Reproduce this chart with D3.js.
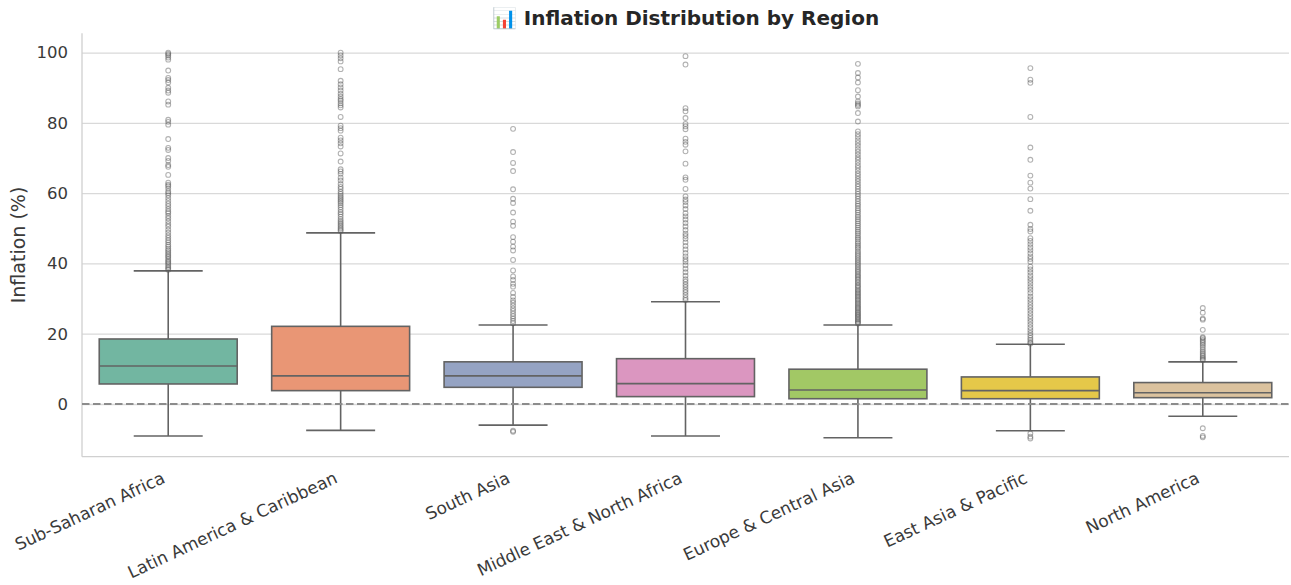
<!DOCTYPE html>
<html>
<head>
<meta charset="utf-8">
<script src="https://cdn.jsdelivr.net/npm/d3@7"></script>
<style>
  body { margin: 0; background: #fff; }
  svg { display: block; font-family: "DejaVu Sans", sans-serif; }
</style>
</head>
<body>
<svg id="chart" width="1291" height="585"></svg>
<script>
// ---------------- DATA ----------------
const regions = ["Sub-Saharan Africa", "Latin America & Caribbean", "South Asia",
  "Middle East & North Africa", "Europe & Central Asia", "East Asia & Pacific", "North America"];
const colors = ["#72b6a1", "#e99675", "#95a3c3", "#db96c0", "#a2c865", "#e5c849", "#dbc29e"];
const q1 = [5.7, 3.8, 4.75, 2.1, 1.5, 1.5, 1.8];
const median = [10.8, 8.0, 8.0, 5.8, 4.0, 3.8, 3.2];
const q3 = [18.5, 22.1, 12.0, 12.9, 9.9, 7.7, 6.1];
const whiskerLow = [-9.1, -7.5, -6.0, -9.1, -9.6, -7.6, -3.5];
const whiskerHigh = [37.9, 48.7, 22.5, 29.1, 22.5, 17.0, 12.0];
const yTicks = [0, 20, 40, 60, 80, 100];

const outliersSSA = [100, 99.6, 99.2, 98.6, 98.0, 94.9, 92.8, 92.2, 91.5, 90.0, 89.2, 88.6, 86.1, 85.2,
  80.9, 80.3, 79.5, 75.4, 72.9, 72.3, 70.0, 69.2, 68.0, 67.5, 65.2, 63.0, 62.4, 62.0, 61.3, 60.5, 60.0,
  59.4, 58.6, 57.8, 57.0, 56.3, 55.5, 54.8, 54.3, 53.5, 52.8, 52.0, 51.2, 50.5, 49.6, 48.8, 48.0, 47.3,
  46.6, 46.0, 45.3, 44.8, 44.2, 43.7, 43.2, 42.7, 42.2, 41.8, 41.3, 40.8, 40.4, 40.0, 39.5, 39.0, 38.6, 38.2];
const outliersLAC = [100, 99.2, 98.4, 97.5, 95.3, 92.0, 91.0, 90.1, 89.2, 88.3, 87.5, 86.8, 86.3, 85.6,
  85.0, 84.4, 81.7, 79.2, 78.5, 77.8, 75.8, 75.0, 74.2, 73.3, 71.3, 69.0, 66.8, 66.2, 65.5, 64.4, 63.6,
  62.6, 61.8, 61.2, 60.4, 59.8, 59.2, 58.7, 58.2, 57.7, 57.2, 56.6, 56.0, 55.3, 54.6, 54.0, 53.3, 52.6,
  52.0, 51.5, 51.0, 50.5, 50.0, 49.6, 49.2];
const outliersSA = [78.3, 71.7, 68.6, 66.3, 61.1, 58.4, 57.2, 54.5, 51.9, 50.7, 47.5, 46.2, 44.8, 43.7,
  41.0, 38.0, 36.3, 35.3, 34.2, 33.4, 31.6, 30.5, 29.5, 28.8, 28.0, 27.2, 26.5, 25.7, 25.0, 24.3, 23.6,
  23.0, -7.6, -7.9];
const outliersMENA = [99.0, 96.6, 84.2, 83.3, 81.4, 79.7, 79.0, 78.2, 75.5, 74.6, 73.8, 71.9, 68.4, 64.5,
  63.8, 61.2, 59.1, 58.2, 57.5, 56.5, 55.5, 54.3, 53.4, 52.5, 51.5, 50.5, 49.5, 48.5, 47.8, 47.0, 46.0,
  45.0, 44.0, 43.0, 42.0, 41.2, 40.5, 39.5, 38.5, 37.5, 36.5, 35.5, 34.8, 34.0, 33.3, 32.5, 31.8, 31.0,
  30.2, 29.6];
const outliersECA = [96.8, 94.2, 92.9, 91.5, 89.3, 87.5, 86.1, 85.5, 85.1, 84.7, 82.8, 80.4, 77.6, 76.8,
  76.0, 75.1, 74.3, 73.5, 72.6, 71.8, 71.0, 70.2, 69.5, 68.7, 67.9, 67.2, 66.4, 65.6, 64.9, 64.1, 63.4,
  62.6, 61.9, 61.2, 60.5, 59.8, 59.1, 58.4, 57.7, 57.0, 56.4, 55.7, 55.1, 54.5, 53.8, 53.2, 52.6, 52.0,
  51.4, 50.8, 50.2, 49.6, 49.0, 48.5, 47.9, 47.3, 46.8, 46.2, 45.7, 45.1, 44.6, 44.1, 43.5, 43.0, 42.5,
  42.0, 41.5, 41.0, 40.5, 40.0, 39.5, 39.0, 38.5, 38.0, 37.6, 37.1, 36.6, 36.2, 35.7, 35.3, 34.8, 34.4,
  33.9, 33.5, 33.1, 32.6, 32.2, 31.8, 31.4, 31.0, 30.6, 30.2, 29.8, 29.4, 29.0, 28.6, 28.2, 27.8, 27.4,
  27.1, 26.7, 26.3, 26.0, 25.6, 25.3, 24.9, 24.6, 24.2, 23.9, 23.5, 23.2, 22.9];
const outliersEAP = [95.6, 92.3, 91.4, 81.7, 73.0, 69.5, 65.0, 63.0, 61.3, 58.3, 55.0, 51.0, 49.8, 49.1,
  47.2, 46.4, 45.5, 44.6, 43.8, 42.9, 42.0, 41.3, 40.5, 39.1, 38.3, 37.5, 36.6, 35.8, 35.0, 34.2, 33.3,
  32.5, 31.6, 30.6, 29.8, 29.0, 28.2, 27.4, 26.6, 25.8, 25.0, 24.2, 23.4, 22.6, 21.8, 21.0, 20.2, 19.5,
  18.8, 18.2, 17.6, 17.2, -8.4, -9.3, -9.8];
const outliersNA = [27.3, 26.0, 24.3, 24.0, 21.1, 19.0, 18.7, 18.2, 17.8, 17.3, 16.8, 16.2, 15.6, 15.0,
  14.5, 14.0, 13.6, 13.2, 12.8, 12.5, -6.9, -9.1, -9.5];
const outliers = [outliersSSA, outliersLAC, outliersSA, outliersMENA, outliersECA, outliersEAP, outliersNA];

// ---------------- LAYOUT ----------------
const plotLeft = 82, plotRight = 1289, plotTop = 33.3, plotBottom = 456.7;
const svg = d3.select("#chart");
svg.append("rect").attr("width", 1291).attr("height", 585).attr("fill", "#fff");

const x = d3.scaleBand().domain(regions).range([plotLeft, plotRight]).paddingInner(0.2).paddingOuter(0.1);
const y = d3.scaleLinear().domain([-15, 105.5]).range([plotBottom, plotTop]);

// gridlines
const yAxis = d3.axisLeft(y).tickValues(yTicks).tickSize(-(plotRight - plotLeft)).tickPadding(14);
const gy = svg.append("g").attr("transform", `translate(${plotLeft},0)`).call(yAxis);
gy.select(".domain").remove();
gy.selectAll(".tick line").attr("stroke", "#d9d9d9").attr("stroke-width", 1.3);
gy.selectAll(".tick text").attr("font-size", 16.5).attr("fill", "#3a3a3a")
  .attr("font-family", "DejaVu Sans, sans-serif");

// spines
svg.append("line").attr("x1", plotLeft).attr("x2", plotLeft).attr("y1", plotTop).attr("y2", plotBottom)
  .attr("stroke", "#d0d0d0").attr("stroke-width", 1.3);
svg.append("line").attr("x1", plotLeft).attr("x2", plotRight).attr("y1", plotBottom).attr("y2", plotBottom)
  .attr("stroke", "#d0d0d0").attr("stroke-width", 1.3);

const lineColor = "#636363";
const lw = 1.6;

regions.forEach((r, i) => {
  const bw = x.bandwidth();
  const cx = x(r) + bw / 2;
  const g = svg.append("g");
  // whiskers
  g.append("line").attr("x1", cx).attr("x2", cx).attr("y1", y(q3[i])).attr("y2", y(whiskerHigh[i]))
    .attr("stroke", lineColor).attr("stroke-width", lw);
  g.append("line").attr("x1", cx).attr("x2", cx).attr("y1", y(q1[i])).attr("y2", y(whiskerLow[i]))
    .attr("stroke", lineColor).attr("stroke-width", lw);
  // caps
  [whiskerHigh[i], whiskerLow[i]].forEach(v => {
    g.append("line").attr("x1", cx - bw / 4).attr("x2", cx + bw / 4).attr("y1", y(v)).attr("y2", y(v))
      .attr("stroke", lineColor).attr("stroke-width", lw);
  });
  // box
  g.append("rect").attr("x", x(r)).attr("width", bw).attr("y", y(q3[i]))
    .attr("height", y(q1[i]) - y(q3[i])).attr("fill", colors[i])
    .attr("stroke", lineColor).attr("stroke-width", lw);
  // median
  g.append("line").attr("x1", x(r)).attr("x2", x(r) + bw).attr("y1", y(median[i])).attr("y2", y(median[i]))
    .attr("stroke", lineColor).attr("stroke-width", lw);
  // outliers
  g.selectAll("circle.out").data(outliers[i]).enter().append("circle")
    .attr("class", "out").attr("cx", cx).attr("cy", d => y(d)).attr("r", 2.4)
    .attr("fill", "none").attr("stroke", "#555").attr("stroke-opacity", 0.45).attr("stroke-width", 1.1);
});

// zero reference line
svg.append("line").attr("x1", plotLeft).attr("x2", plotRight).attr("y1", y(0)).attr("y2", y(0))
  .attr("stroke", "#8c8c8c").attr("stroke-width", 1.8).attr("stroke-dasharray", "7.5,3.5");

// x tick labels
svg.append("g").selectAll("text").data(regions).enter().append("text")
  .attr("transform", d => `translate(${x(d) + x.bandwidth() / 2 - 2},482) rotate(-25)`)
  .attr("text-anchor", "end").attr("font-size", 17).attr("fill", "#3a3a3a")
  .text(d => d);

// y label
svg.append("text").attr("transform", `translate(25,${(plotTop + plotBottom) / 2}) rotate(-90)`)
  .attr("text-anchor", "middle").attr("font-size", 19).attr("fill", "#3a3a3a")
  .text("Inflation (%)");

// title
svg.append("text").attr("x", (plotLeft + plotRight) / 2).attr("y", 25).attr("text-anchor", "middle")
  .attr("font-size", 20).attr("font-weight", "bold").attr("fill", "#262626")
  .text("📊 Inflation Distribution by Region");
</script>
</body>
</html>
